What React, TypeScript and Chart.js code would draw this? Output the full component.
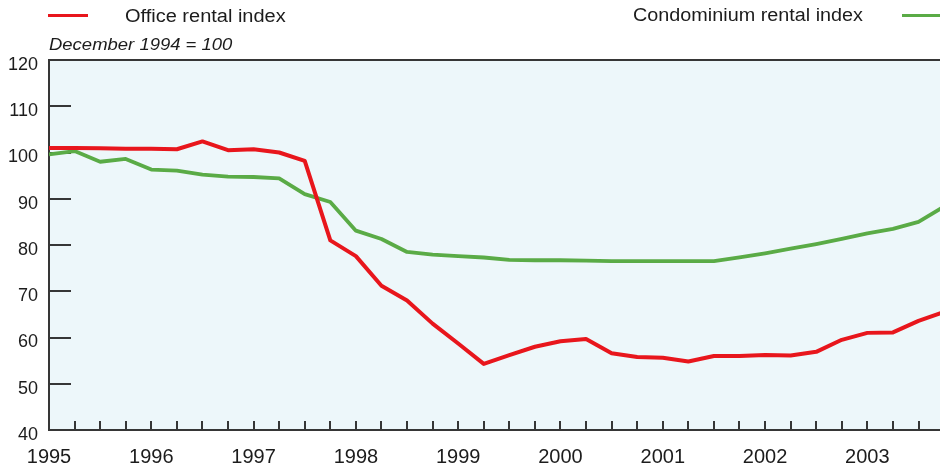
import React, { useEffect, useRef } from 'react';
import { Chart, registerables } from 'chart.js';

Chart.register(...registerables);

const quarters = [
  1995, 1995.25, 1995.5, 1995.75,
  1996, 1996.25, 1996.5, 1996.75,
  1997, 1997.25, 1997.5, 1997.75,
  1998, 1998.25, 1998.5, 1998.75,
  1999, 1999.25, 1999.5, 1999.75,
  2000, 2000.25, 2000.5, 2000.75,
  2001, 2001.25, 2001.5, 2001.75,
  2002, 2002.25, 2002.5, 2002.75,
  2003, 2003.25, 2003.5, 2003.75,
];

const officeIndex = [
  101.0, 101.0, 100.9, 100.8,
  100.8, 100.7, 102.4, 100.5,
  100.7, 100.0, 98.2, 81.0,
  77.6, 71.2, 68.0, 63.0,
  58.7, 54.3, 56.2, 58.0,
  59.2, 59.7, 56.6, 55.8,
  55.6, 54.8, 56.0, 56.0,
  56.2, 56.1, 56.9, 59.5,
  61.0, 61.1, 63.6, 65.5,
];

const condoIndex = [
  99.6, 100.3, 98.0, 98.6,
  96.3, 96.1, 95.2, 94.8,
  94.7, 94.4, 91.0, 89.3,
  83.1, 81.3, 78.5, 77.9,
  77.6, 77.3, 76.8, 76.7,
  76.7, 76.6, 76.5, 76.5,
  76.5, 76.5, 76.5, 77.3,
  78.2, 79.2, 80.2, 81.3,
  82.5, 83.5, 85.0, 88.3,
];

const yearTicks = [1995, 1996, 1997, 1998, 1999, 2000, 2001, 2002, 2003];

const FONT = '"Liberation Sans", Arial, Helvetica, sans-serif';
const AXIS_COLOR = '#363636';
const TEXT_COLOR = '#1c1c1c';
const RED = '#e8161c';
const GREEN = '#5aab46';

const framePlugin = {
  id: 'frame',
  beforeDraw(chart: any) {
    const { ctx, chartArea: a } = chart;
    ctx.save();
    ctx.fillStyle = '#edf7fa';
    ctx.fillRect(a.left, a.top, a.right - a.left, a.bottom - a.top);
    ctx.restore();
  },
  beforeDatasetsDraw(chart: any) {
    const { ctx, chartArea: a, scales } = chart;
    const x = scales.x;
    const y = scales.y;
    ctx.save();
    ctx.strokeStyle = AXIS_COLOR;
    ctx.lineWidth = 2;
    ctx.beginPath();
    y.ticks.forEach((t: any) => {
      if (t.value > y.min && t.value < y.max) {
        const py = Math.round(y.getPixelForValue(t.value));
        ctx.moveTo(a.left, py);
        ctx.lineTo(a.left + 22, py);
      }
    });
    quarters.forEach((q) => {
      if (q > x.min && q < x.max) {
        const px = Math.round(x.getPixelForValue(q));
        ctx.moveTo(px, a.bottom);
        ctx.lineTo(px, a.bottom - 9);
      }
    });
    ctx.stroke();
    ctx.beginPath();
    ctx.moveTo(a.left - 1, a.top);
    ctx.lineTo(a.right, a.top);
    ctx.stroke();
    ctx.restore();
  },
};

export default function App() {
  const canvasRef = useRef<HTMLCanvasElement | null>(null);

  useEffect(() => {
    if (!canvasRef.current) return;
    const chart = new Chart(canvasRef.current, {
      type: 'line',
      data: {
        datasets: [
          {
            label: 'Office rental index',
            data: quarters.map((q, i) => ({ x: q, y: officeIndex[i] })),
            borderColor: RED,
            borderWidth: 4,
            pointRadius: 0,
            tension: 0,
            borderJoinStyle: 'round',
          },
          {
            label: 'Condominium rental index',
            data: quarters.map((q, i) => ({ x: q, y: condoIndex[i] })),
            borderColor: GREEN,
            borderWidth: 3.8,
            pointRadius: 0,
            tension: 0,
            borderJoinStyle: 'round',
          },
        ],
      },
      options: {
        responsive: false,
        animation: false,
        devicePixelRatio: 1,
        layout: { padding: { top: 60, left: 0, right: 0, bottom: 0 } },
        plugins: {
          legend: { display: false },
          tooltip: { enabled: false },
        },
        scales: {
          x: {
            type: 'linear',
            min: 1995,
            max: 2003.71,
            afterBuildTicks: (s: any) => {
              s.ticks = yearTicks.map((v) => ({ value: v }));
            },
            afterFit: (s: any) => {
              s.height = 39;
            },
            ticks: {
              callback: (v: any) => String(v),
              font: { family: FONT, size: 20 },
              color: TEXT_COLOR,
              padding: 15,
              maxRotation: 0,
              autoSkip: false,
            },
            grid: { display: false, drawTicks: false },
            border: { display: true, color: AXIS_COLOR, width: 2 },
          },
          y: {
            min: 40,
            max: 120,
            afterFit: (s: any) => {
              s.width = 49;
            },
            ticks: {
              stepSize: 10,
              font: { family: FONT, size: 18 },
              color: TEXT_COLOR,
              padding: 11,
              labelOffset: 5,
            },
            grid: { display: false, drawTicks: false },
            border: { display: true, color: AXIS_COLOR, width: 2 },
          },
        },
      },
      plugins: [framePlugin],
    } as any);
    return () => chart.destroy();
  }, []);

  const textBase: React.CSSProperties = {
    position: 'absolute',
    fontFamily: FONT,
    color: TEXT_COLOR,
    whiteSpace: 'nowrap',
    transformOrigin: 'left center',
  };

  return (
    <div
      style={{
        position: 'fixed',
        left: 0,
        top: 0,
        width: 940,
        height: 469,
        background: '#ffffff',
        overflow: 'hidden',
      }}
    >
      <canvas ref={canvasRef} width={940} height={469} style={{ position: 'absolute', left: 0, top: 0, width: 940, height: 469 }} />
      <div style={{ position: 'absolute', left: 48, top: 13.5, width: 40, height: 3, background: RED }} />
      <div style={{ ...textBase, left: 125, top: 6, fontSize: 18, lineHeight: '20px', transform: 'scaleX(1.11)' }}>
        Office rental index
      </div>
      <div style={{ ...textBase, left: 633, top: 5, fontSize: 18, lineHeight: '20px', transform: 'scaleX(1.1)' }}>
        Condominium rental index
      </div>
      <div style={{ position: 'absolute', left: 902, top: 13.5, width: 38, height: 3, background: GREEN }} />
      <div style={{ ...textBase, left: 49, top: 34, fontSize: 16.5, fontStyle: 'italic', lineHeight: '20px', transform: 'scaleX(1.12)' }}>
        December 1994 = 100
      </div>
    </div>
  );
}
